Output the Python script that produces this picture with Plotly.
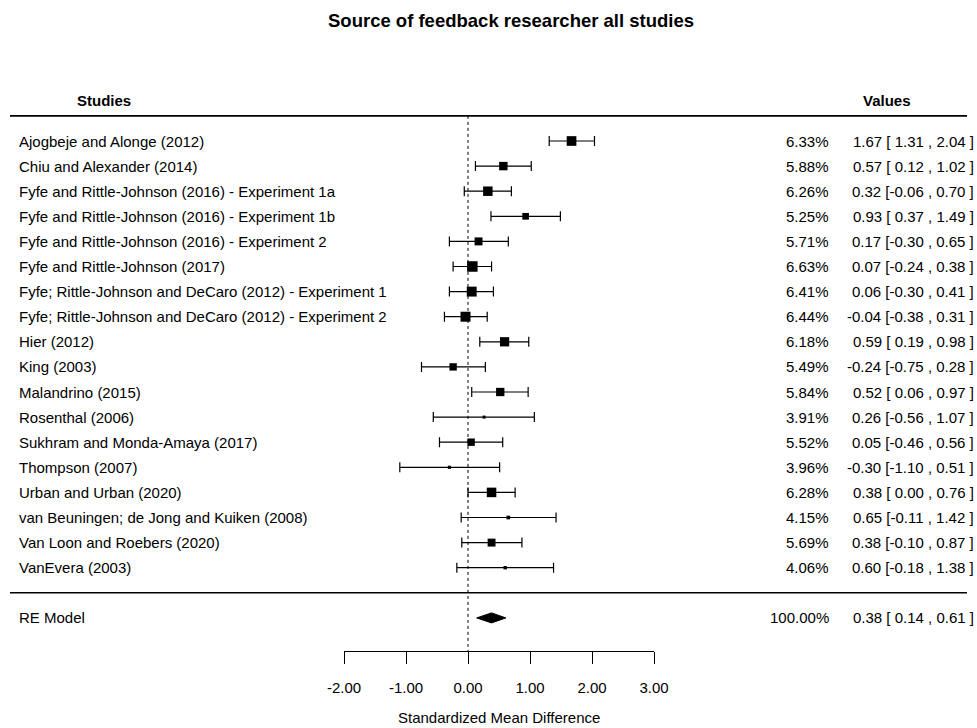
import plotly.graph_objects as go

studies = [
    "Ajogbeje and Alonge (2012)",
    "Chiu and Alexander (2014)",
    "Fyfe and Rittle-Johnson (2016) - Experiment 1a",
    "Fyfe and Rittle-Johnson (2016) - Experiment 1b",
    "Fyfe and Rittle-Johnson (2016) - Experiment 2",
    "Fyfe and Rittle-Johnson (2017)",
    "Fyfe; Rittle-Johnson and DeCaro (2012) - Experiment 1",
    "Fyfe; Rittle-Johnson and DeCaro (2012) - Experiment 2",
    "Hier (2012)",
    "King (2003)",
    "Malandrino (2015)",
    "Rosenthal (2006)",
    "Sukhram and Monda-Amaya (2017)",
    "Thompson (2007)",
    "Urban and Urban (2020)",
    "van Beuningen; de Jong and Kuiken (2008)",
    "Van Loon and Roebers (2020)",
    "VanEvera (2003)",
]
estimate = [1.67, 0.57, 0.32, 0.93, 0.17, 0.07, 0.06, -0.04, 0.59, -0.24,
            0.52, 0.26, 0.05, -0.30, 0.38, 0.65, 0.38, 0.60]
ci_lower = [1.31, 0.12, -0.06, 0.37, -0.30, -0.24, -0.30, -0.38, 0.19, -0.75,
            0.06, -0.56, -0.46, -1.10, 0.00, -0.11, -0.10, -0.18]
ci_upper = [2.04, 1.02, 0.70, 1.49, 0.65, 0.38, 0.41, 0.31, 0.98, 0.28,
            0.97, 1.07, 0.56, 0.51, 0.76, 1.42, 0.87, 1.38]
weights = [6.33, 5.88, 6.26, 5.25, 5.71, 6.63, 6.41, 6.44, 6.18, 5.49,
           5.84, 3.91, 5.52, 3.96, 6.28, 4.15, 5.69, 4.06]

re_label = "RE Model"
re_est, re_lower, re_upper, re_weight = 0.38, 0.14, 0.61, 100.00

axis_ticks = [-2, -1, 0, 1, 2, 3]

FONT = "Liberation Sans, Arial, sans-serif"
W, H = 977, 728
row_px = 25.1
first_row_px = 141
axis_px = 651


def px_x(p):
    return p / W


def px_y(p):
    return 1 - p / H


def row_at(p):
    return 1 + (p - first_row_px) / row_px


rows = list(range(1, len(studies) + 1))
sep_row = len(studies) + 1
re_row = len(studies) + 2

# square size scaled by weight
wmin, wmax = min(weights), max(weights)
sizes = [3 + (w - wmin) / (wmax - wmin) * 7.5 for w in weights]

fig = go.Figure()

fig.add_trace(go.Scatter(
    x=estimate, y=rows, mode="markers",
    marker=dict(symbol="square", size=sizes, color="black", opacity=1,
                line=dict(width=0)),
    error_x=dict(type="data", symmetric=False,
                 array=[u - e for u, e in zip(ci_upper, estimate)],
                 arrayminus=[e - l for e, l in zip(estimate, ci_lower)],
                 color="black", thickness=1.2, width=5),
    hoverinfo="skip", showlegend=False,
))

h = 0.2
fig.add_trace(go.Scatter(
    x=[re_lower, re_est, re_upper, re_est, re_lower],
    y=[re_row, re_row - h, re_row, re_row + h, re_row],
    mode="lines", fill="toself", fillcolor="black",
    line=dict(color="black", width=1), showlegend=False, hoverinfo="skip",
))

y_top = row_at(0)
y_bottom = row_at(axis_px)

fig.add_shape(type="line", xref="x", yref="y", x0=0, x1=0, y0=0, y1=y_bottom,
              line=dict(color="black", width=1, dash="dot"))
for r in [0, sep_row]:
    fig.add_shape(type="line", xref="paper", yref="y", x0=px_x(10), x1=px_x(967),
                  y0=r, y1=r, line=dict(color="black", width=1.6))

ann = []
fs = 15
for r, s, w, e, lo, hi in zip(rows, studies, weights, estimate, ci_lower, ci_upper):
    ann.append(dict(x=px_x(17), y=r, text=s, xanchor="left"))
    ann.append(dict(x=px_x(831), y=r, text=f"{w:.2f}%", xanchor="right"))
    ann.append(dict(x=px_x(976), y=r,
                    text=f"{e:.2f} [{lo:5.2f} , {hi:.2f} ]".replace(" ", "\u00a0"),
                    xanchor="right"))
ann.append(dict(x=px_x(17), y=re_row, text=re_label, xanchor="left"))
ann.append(dict(x=px_x(831), y=re_row, text=f"{re_weight:.2f}%", xanchor="right"))
ann.append(dict(x=px_x(976), y=re_row,
                text=f"{re_est:.2f} [{re_lower:5.2f} , {re_upper:.2f} ]".replace(" ", "\u00a0"),
                xanchor="right"))
ann.append(dict(x=px_x(104), y=row_at(100), text="<b>Studies</b>", xanchor="center"))
ann.append(dict(x=px_x(887), y=row_at(100), text="<b>Values</b>", xanchor="center"))

annotations = []
for a in ann:
    a.update(xref="paper", yref="y", yanchor="middle", showarrow=False,
             font=dict(family=FONT, size=fs, color="black"))
    annotations.append(a)

annotations.append(dict(x=px_x(511), y=px_y(20), xref="paper", yref="paper",
                        text="<b>Source of feedback researcher all studies</b>",
                        showarrow=False, xanchor="center", yanchor="middle",
                        font=dict(family=FONT, size=18.5, color="black")))
annotations.append(dict(x=px_x(499), y=px_y(717), xref="paper", yref="paper",
                        text="Standardized Mean Difference",
                        showarrow=False, xanchor="center", yanchor="middle",
                        font=dict(family=FONT, size=fs, color="black")))

fig.update_layout(
    width=W, height=H,
    margin=dict(l=0, r=0, t=0, b=0, autoexpand=False),
    paper_bgcolor="white", plot_bgcolor="white",
    showlegend=False,
    annotations=annotations,
    xaxis=dict(domain=[px_x(344), px_x(654)], range=[-2, 3],
               tickvals=axis_ticks,
               ticktext=[f"{t:.2f}" for t in axis_ticks],
               showline=True, linecolor="black", linewidth=1.2,
               ticks="outside", ticklen=12, tickwidth=1.2, tickcolor="black",
               ticklabelstandoff=11, automargin=False,
               showgrid=False, zeroline=False,
               tickfont=dict(family=FONT, size=fs, color="black")),
    yaxis=dict(domain=[px_y(axis_px), 1], range=[y_bottom, y_top],
               visible=False, automargin=False, showgrid=False, zeroline=False),
)

# drop the default page margin so the figure fills the window exactly
fig.write_html("out.html", config={"displayModeBar": False},
               post_script="document.body.style.margin='0';")
